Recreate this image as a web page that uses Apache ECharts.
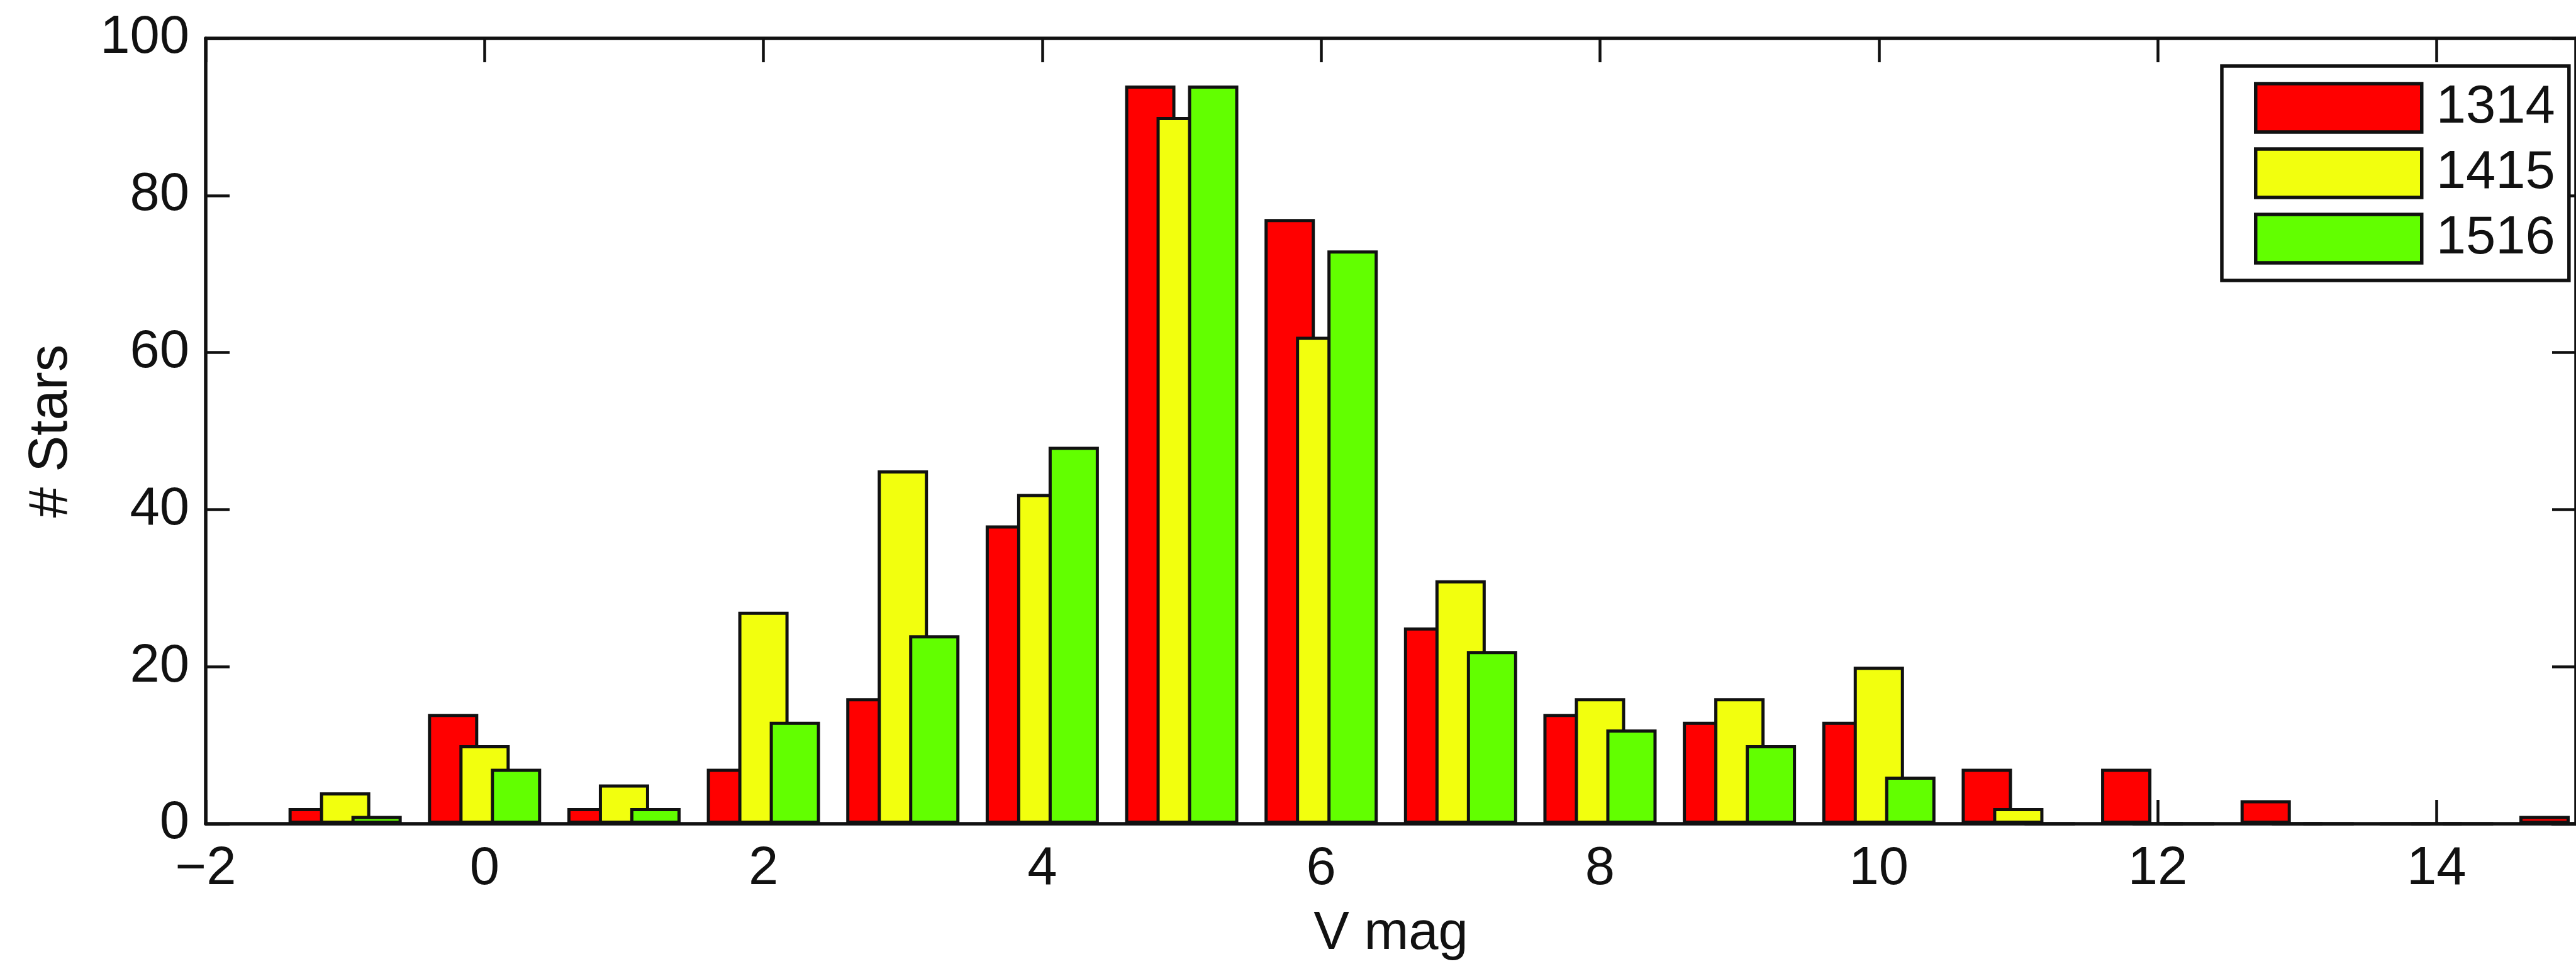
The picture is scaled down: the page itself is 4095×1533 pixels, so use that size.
<!DOCTYPE html>
<html>
<head>
<meta charset="utf-8">
<script src="https://cdn.jsdelivr.net/npm/echarts@6/dist/echarts.min.js"></script>
<style>
html,body{margin:0;padding:0;background:#fff;}
#chart{width:4095px;height:1533px;}
</style>
</head>
<body>
<div id="chart"></div>
<script>
// V magnitude bins (group centres)
const vmag = [-1, 0, 1, 2, 3, 4, 5, 6, 7, 8, 9, 10, 11, 12, 13, 14, 15];
const seriesNames = ['1314', '1415', '1516'];
const stars1314 = [2, 14, 2, 7, 16, 38, 94, 77, 25, 14, 13, 13, 7, 7, 3, 0, 1];
const stars1415 = [4, 10, 5, 27, 45, 42, 90, 62, 31, 16, 16, 20, 2, 0, 0, 0, 0];
const stars1516 = [1, 7, 2, 13, 24, 48, 94, 73, 22, 12, 10, 6, 0, 0, 0, 0, 0];
const colors = ['#FF0000', '#F2FF0E', '#62FF00'];
const xTicks = { min: -2, max: 15, interval: 2 };
const yTicks = { min: 0, max: 100, interval: 20 };

const FONT = 'Liberation Sans, Arial, Helvetica, sans-serif';
const FS = 85;
const allValues = [stars1314, stars1415, stars1516];

const chart = echarts.init(document.getElementById('chart'), null, { renderer: 'canvas' });

const axisLineStyle = { color: '#111', width: 5.5 };
const tickStyle = { color: '#111', width: 4.5 };

const option = {
  backgroundColor: '#fff',
  animation: false,
  textStyle: { fontFamily: FONT, color: '#111' },
  grid: { left: 327, top: 61, width: 3794, height: 1256, containLabel: false },
  legend: {
    orient: 'vertical',
    left: 3532,
    top: 105,
    padding: [24, 22, 24, 51],
    itemWidth: 264,
    itemHeight: 77,
    itemGap: 19,
    borderColor: '#111',
    borderWidth: 5.5,
    backgroundColor: '#fff',
    icon: 'rect',
    itemStyle: { borderColor: '#111', borderWidth: 5.5 },
    textStyle: { fontFamily: FONT, fontSize: FS, color: '#111', lineHeight: 77, padding: [0, 0, 0, 18] },
    data: seriesNames
  },
  xAxis: [
    {
      type: 'value', position: 'bottom',
      min: xTicks.min, max: xTicks.max, interval: xTicks.interval,
      name: 'V mag', nameLocation: 'middle', nameGap: 133,
      nameTextStyle: { fontFamily: FONT, fontSize: FS, color: '#111' },
      axisLine: { show: true, onZero: false, lineStyle: axisLineStyle },
      axisTick: { show: true, inside: true, length: 38, lineStyle: tickStyle },
      axisLabel: {
        fontFamily: FONT, fontSize: FS, color: '#111', margin: 30,
        showMaxLabel: false,
        formatter: v => (v % 2 === 0 ? String(v).replace('-', '\u2212') : '')
      },
      splitLine: { show: false }
    },
    {
      type: 'value', position: 'top',
      min: xTicks.min, max: xTicks.max, interval: xTicks.interval,
      axisLine: { show: true, onZero: false, lineStyle: axisLineStyle },
      axisTick: { show: true, inside: true, length: 38, lineStyle: tickStyle },
      axisLabel: { show: false },
      splitLine: { show: false }
    }
  ],
  yAxis: [
    {
      type: 'value', position: 'left',
      min: yTicks.min, max: yTicks.max, interval: yTicks.interval,
      name: '# Stars', nameLocation: 'middle', nameGap: 201, nameRotate: 90,
      nameTextStyle: { fontFamily: FONT, fontSize: 87, color: '#111' },
      axisLine: { show: true, onZero: false, lineStyle: axisLineStyle },
      axisTick: { show: true, inside: true, length: 38, lineStyle: tickStyle },
      axisLabel: { fontFamily: FONT, fontSize: FS, color: '#111', margin: 26 },
      splitLine: { show: false }
    },
    {
      type: 'value', position: 'right',
      min: yTicks.min, max: yTicks.max, interval: yTicks.interval,
      axisLine: { show: true, onZero: false, lineStyle: axisLineStyle },
      axisTick: { show: true, inside: true, length: 38, lineStyle: tickStyle },
      axisLabel: { show: false },
      splitLine: { show: false }
    }
  ],
  series: seriesNames.map((name, i) => ({
    name: name,
    type: 'bar',
    xAxisIndex: 0,
    yAxisIndex: 0,
    barWidth: 80,
    barGap: '-37.5%',
    itemStyle: { color: colors[i], borderColor: '#111', borderWidth: 5 },
    emphasis: { disabled: true },
    data: vmag.map((x, k) => [x, allValues[i][k]])
  }))
};

chart.setOption(option);
</script>
</body>
</html>
